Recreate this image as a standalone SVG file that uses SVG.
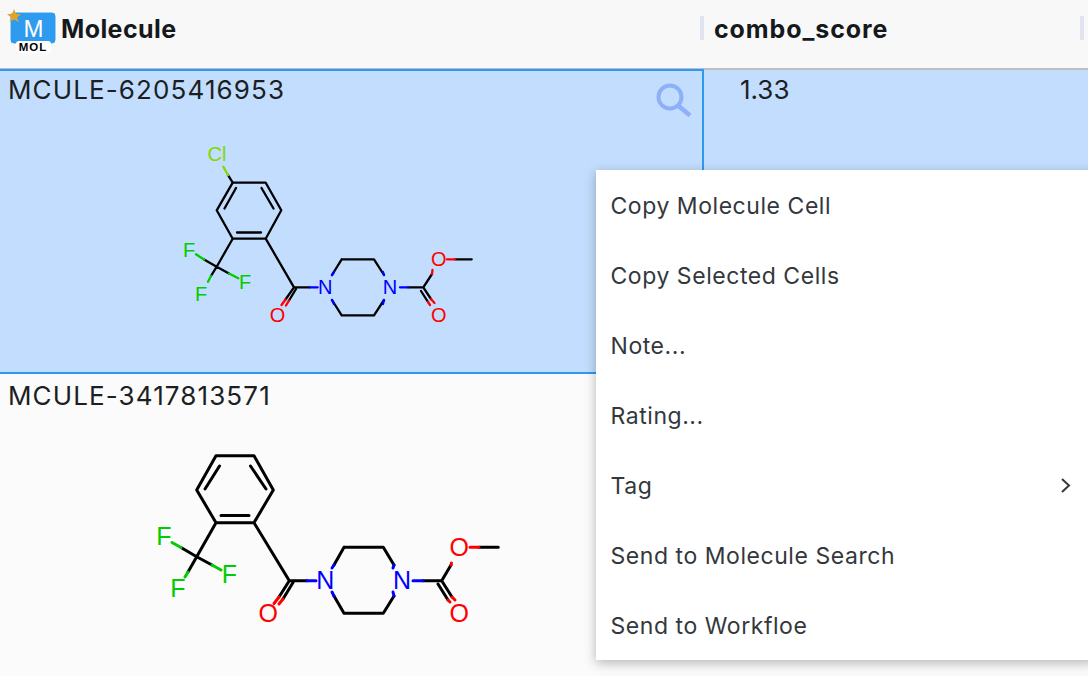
<svg xmlns="http://www.w3.org/2000/svg" width="1088" height="676" viewBox="0 0 1088 676">
<style>
.h{font:700 25px Inter,"Liberation Sans",sans-serif;fill:#15191c}
.c{font:400 26px Inter,"Liberation Sans",sans-serif;fill:#1b1f23;letter-spacing:1.12px}
.m{font:400 23px Inter,"Liberation Sans",sans-serif;fill:#33383d;letter-spacing:.55px}
.a{font-family:"Liberation Sans",Arial,sans-serif;text-anchor:middle}
.s1{font-size:20px}.s2{font-size:25px}
.b{fill:none;stroke-linecap:round;stroke-linejoin:round}
.k{stroke:#000}.r{stroke:#f00}.n{stroke:#00f}.g{stroke:#0c0}
.w1{stroke-width:2.3}.w2{stroke-width:3}
</style>
<defs>
<filter id="sh" x="-10%" y="-10%" width="120%" height="120%"><feDropShadow dx="0" dy="3" stdDeviation="6" flood-color="#000" flood-opacity=".28"/></filter>
</defs>
<rect width="1088" height="676" fill="#fbfbfb"/>
<rect width="1088" height="68" fill="#f8f8f8"/>
<rect y="68" width="1088" height="2" fill="#bcbfc2"/>
<rect y="70" width="1088" height="304" fill="#c2ddfd"/>
<rect x="-2" y="70" width="705" height="303" fill="#c2ddfd" stroke="#2f98f0" stroke-width="2"/>
<rect x="700" y="16" width="4" height="24" fill="#dfe3ee"/>
<rect x="1080" y="16" width="4" height="24" fill="#dfe3ee"/>

<g id="header-molecule">
<rect x="10" y="12" width="46" height="32" rx="4" fill="#2f9bef" stroke="#fff"/>
<rect x="16" y="41" width="35" height="12" rx="3" fill="#fff"/>
<polygon points="14,9 16,14 21,14 17,17.500 19,22 14,19.500 9.500,22 11,17.500 7,14 12,14" fill="#e0a42c"/>
<text x="33.500" y="37" font-family="Liberation Sans,sans-serif" font-size="24" text-anchor="middle" fill="#fff">M</text>
<text x="33" y="51" font-family="Liberation Sans,sans-serif" font-size="11.500" font-weight="700" letter-spacing="1" text-anchor="middle" fill="#000">MOL</text>
<text class="h" x="61" y="38" letter-spacing=".4">Molecule</text>
</g>
<g id="header-score"><text class="h" x="714" y="38" letter-spacing=".9">combo_score</text></g>

<g id="cell-1">
<text class="c" x="8" y="99">MCULE-6205416953</text>
<g fill="none" stroke="#8eb0f8" stroke-width="4"><circle cx="670" cy="97" r="11.500"/><path d="M678 105.500 L690 115.500" stroke-width="4.500"/></g>
<g class="b w1">
<path class="k" d="M232.700 182.700H265.700L281.300 210.300L265.700 238.700H232.700L216.700 210.300ZM236 188L224.500 208.500M261.500 188L273.500 208.500M237 232.500H261M232.700 182.700L228 175M232.700 238.700L216.700 266.700L204 259.500M216.700 266.700L229 273.500M216.700 266.700L211 276M265.700 238.700L294 287.300L310 287.300M294 287.300L285.500 299.500M296 289L289 300.500M341.700 259.300H374L384 275M341.700 259.300L332 275M341.700 315.300H374L384 300M341.700 315.300L332 300M423.300 287.300H408M423.300 287.300L432 274M423.300 287.300L431 299M421 291L428 302M455 259.300H471.700"/>
<path class="g" d="M204 259.500L196 254.300M229 273.500L238.300 278.300M211 276L208 281.700"/>
<path stroke="#7fd900" d="M228 175L223.300 166.700"/>
<path class="r" d="M285.500 299.500L281.500 305M289 300.500L286 305.500M432 274L432.500 270M431 299L434.500 303M428 302L430 305M455 259.300H447"/>
<path class="n" d="M310 287.300H317.700M332 275L334 272M332 300L334 304M384 275L383 272M384 300L383 304M408 287.300H400"/>
</g>
<g class="a s1">
<text x="217" y="161" fill="#7fd900">Cl</text>
<text x="189" y="257" fill="#0c0">F</text><text x="245" y="289" fill="#0c0">F</text><text x="201" y="301" fill="#0c0">F</text>
<text x="277.500" y="322" fill="#f00">O</text><text x="438.700" y="266" fill="#f00">O</text><text x="438.700" y="322" fill="#f00">O</text>
<text x="325.300" y="294" fill="#00f">N</text><text x="390" y="294" fill="#00f">N</text>
</g>
</g>

<g id="cell-score"><text class="c" x="740" y="99" style="letter-spacing:0">1.33</text></g>

<g id="cell-2">
<text class="c" x="8" y="405">MCULE-3417813571</text>
<g class="b w2">
<path class="k" d="M216 455.700H254L273.300 490L254 522.700H216L196.700 490ZM219.500 466L205 489M250.500 466L266 489M221 515.500H249M216 522.700L196.700 556.700L181 547.500M196.700 556.700L212 565M196.700 556.700L188 572M254 522.700L289.300 580.700H307M289.300 580.700L279 597M293 582.500L283 599M344 547.300H383.300L394 565M344 547.300L334 565M344 613.300H383.300L394 596M344 613.300L334 596M441.700 580.700H423M441.700 580.700L451 565M441.700 580.700L452 597M438 584L448 600M479 547.300H498.300"/>
<path class="g" d="M181 547.500L172 542.500M212 565L221 570M188 572L185 577"/>
<path class="r" d="M279 597L274 603.500M283 599L279 604M451 565L451.500 563M452 597L455 600M448 600L450 602M479 547.300H470"/>
<path class="n" d="M307 580.700H316M334 565L332 568M334 596L332 592M394 565L393 568M394 596L393 592M423 580.700H413"/>
</g>
<g class="a s2">
<text x="164" y="545" fill="#0c0">F</text><text x="229.500" y="583" fill="#0c0">F</text><text x="178" y="597" fill="#0c0">F</text>
<text x="268.300" y="622" fill="#f00">O</text><text x="459.300" y="556" fill="#f00">O</text><text x="459.300" y="622" fill="#f00">O</text>
<text x="325.300" y="589" fill="#00f">N</text><text x="402" y="589" fill="#00f">N</text>
</g>
</g>

<g id="context-menu">
<rect x="596" y="170" width="500" height="490" fill="#fff" filter="url(#sh)"/>
<text class="m" x="610.500" y="214">Copy Molecule Cell</text>
<text class="m" x="610.500" y="284">Copy Selected Cells</text>
<text class="m" x="610.500" y="354">Note...</text>
<text class="m" x="610.500" y="424">Rating...</text>
<text class="m" x="610.500" y="494">Tag</text>
<path d="M1062 479L1069 485.500L1062 492" fill="none" stroke="#33383d" stroke-width="2"/>
<text class="m" x="610.500" y="564">Send to Molecule Search</text>
<text class="m" x="610.500" y="634">Send to Workfloe</text>
</g>
</svg>
